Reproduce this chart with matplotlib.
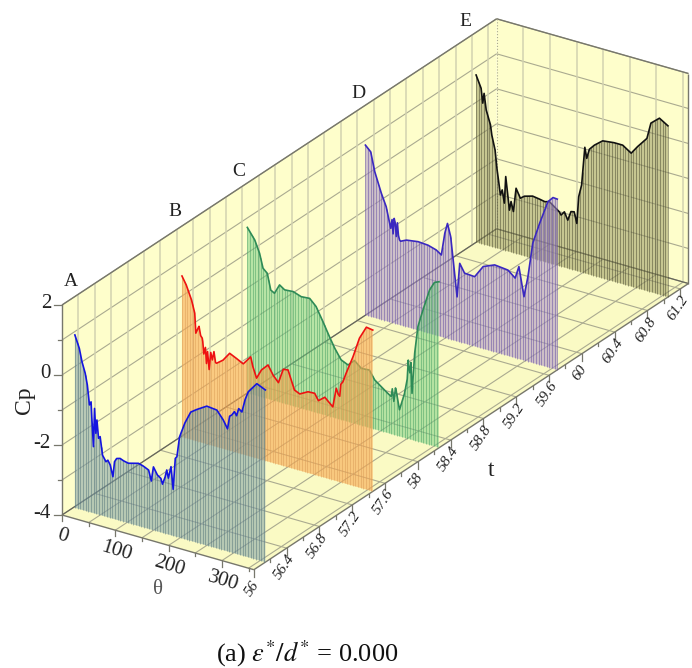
import matplotlib
matplotlib.use("Agg")
import matplotlib.pyplot as plt
import numpy as np

plt.rcParams['font.family'] = ['Liberation Serif', 'DejaVu Serif']
plt.rcParams['mathtext.fontset'] = 'stix'

# values
theta_a = [2.6, 11, 16, 22, 26, 30, 33, 34.5, 37.5, 39.5, 42, 44, 47, 50, 54.5, 61, 64.5, 69, 74, 77, 81, 87.5, 94,
           103, 112.5, 122, 131, 141, 146, 150, 157.5, 164, 167, 172, 175, 178, 183, 187, 191, 194, 199, 209, 220,
           231, 250, 269, 281, 289, 293, 297, 302, 306, 310, 316, 322, 328, 344, 360]
cp_a = [0.94, 0.59, 0.23, -0.07, -0.39, -0.94, -0.84, -1.31, -2.10, -1.0, -1.70, -1.31, -1.82, -1.76, -2.27, -2.43,
        -2.37, -2.49, -2.80, -2.36, -2.25, -2.22, -2.26, -2.29, -2.25, -2.21, -2.25, -2.32, -2.61, -2.19, -2.39,
        -2.46, -2.61, -2.38, -2.17, -2.39, -2.04, -2.67, -1.77, -1.71, -1.12, -0.68, -0.32, -0.20, -0.02, -0.05,
        -0.28, -0.50, -0.12, -0.07, 0.05, -0.05, 0.17, 0.10, 0.48, 0.73, 1.03, 0.92]
theta_b = [2, 10, 20, 26, 28, 33, 34, 37, 40, 41, 43, 46, 48, 50, 53, 56, 59, 62, 65, 67, 79, 91.5, 104, 117, 131,
           135, 142, 151, 163.5, 173, 183, 192, 201, 213, 223, 238.5, 251, 258, 270, 285, 291.5, 295, 298, 300,
           304, 310, 323, 335, 348, 360]
cp_b = [0.6, 0.38, -0.01, -0.36, -0.92, -0.73, -0.70, -0.95, -1.01, -1.10, -1.45, -1.25, -1.70, -1.35, -1.85, -1.35,
        -1.55, -1.30, -1.60, -1.61, -1.47, -1.22, -1.31, -1.41, -1.15, -1.41, -1.71, -1.44, -1.24, -1.49, -1.66,
        -1.24, -1.22, -1.74, -1.81, -1.68, -1.67, -1.85, -1.70, -1.91, -1.35, -1.50, -1.55, -1.20, -1.11, -0.84,
        -0.31, 0.27, 0.64, 0.61]
theta_c = [0, 14, 23, 29.5, 37.5, 44, 51, 60.5, 70, 86, 101, 117, 129, 142, 154, 164, 176, 189, 201, 214, 229, 239,
           254, 262, 270, 272, 275, 278, 279, 282, 285.5, 295, 300, 302, 303, 305, 307, 309, 314, 320, 329.5, 342,
           351, 359.5]
cp_c = [0.73, 0.43, 0.09, -0.31, -0.42, -0.87, -0.93, -0.65, -0.75, -0.73, -0.81, -0.79, -0.97, -1.35, -1.72, -2.01,
        -2.29, -2.38, -2.20, -2.37, -2.35, -2.59, -2.76, -2.85, -2.93, -2.70, -3.05, -2.65, -2.70, -2.95, -3.24,
        -2.73, -2.30, -1.75, -1.93, -2.10, -1.80, -2.67, -1.50, -0.72, -0.20, 0.43, 0.68, 0.74]
theta_d = [0, 10, 17.5, 30, 39, 47.5, 50, 52, 54, 56, 58, 60, 62, 64, 66, 77, 99, 117.5, 133, 142.5, 149, 154, 160,
           166, 172, 177, 186, 205, 221, 242.5, 267.5, 281, 288, 297.5, 305, 314, 327, 342.5, 352, 360]
cp_d = [0.86, 0.71, 0.18, -0.39, -0.73, -1.31, -1.05, -1.45, -1.00, -1.13, -1.50, -1.10, -1.45, -1.57, -1.60, -1.52,
        -1.47, -1.49, -1.56, -1.66, -1.01, -0.71, -1.06, -1.89, -2.73, -1.75, -1.99, -2.01, -1.65, -1.51, -1.55,
        -1.72, -1.36, -2.18, -1.57, -0.58, 0.05, 0.73, 0.89, 0.88]
theta_e = [0, 9.4, 12.5, 15, 19, 27, 29.5, 35.6, 39.4, 42, 45.6, 49, 53, 55.6, 59.4, 62.5, 65.6, 70, 75, 83, 90.6,
           106, 119, 129, 137.5, 147, 156, 159.4, 165.6, 172, 178, 184, 189, 192.5, 198, 204, 207.6, 212.5, 222,
           237.5, 259, 275, 291, 303, 320.5, 328, 344, 360]
cp_e = [0.78, 0.44, 0.03, 0.32, -0.14, -0.53, -0.81, -1.21, -1.76, -2.04, -2.45, -2.29, -2.65, -1.88, -2.39, -2.81,
        -2.55, -2.82, -2.13, -2.38, -2.29, -2.22, -2.25, -2.28, -2.24, -2.35, -2.45, -2.53, -2.41, -2.62, -2.35,
        -2.33, -2.64, -1.86, -1.50, -0.40, -0.70, -0.42, -0.26, -0.07, -0.03, -0.03, -0.19, 0.05, 0.36, 0.83, 1.04,
        0.89]

t_a, t_b, t_c, t_d, t_e = 56.14, 57.45, 58.26, 59.7, 61.05

theta_ticks = [0, 100, 200, 300]
t_ticks = [56, 56.4, 56.8, 57.2, 57.6, 58, 58.4, 58.8, 59.2, 59.6, 60, 60.4, 60.8, 61.2]
t_labels = ['56', '56.4', '56.8', '57.2', '57.6', '58', '58.4', '58.8', '59.2', '59.6', '60', '60.4', '60.8',
            '61.2']
cp_ticks = [-4, -2, 0, 2]
THETA_MAX = 360
T_MIN, T_MAX = 56, 61.3
CP_MIN, CP_MAX = -4, 2

WALL = '#fefecb'
FLOOR = '#fafac4'
GRID_V = '#d2d2b0'
GRID_H = '#aaaa90'
EDGE = '#77776c'


def project(theta, t, cp):
    # oblique view, result in image pixels
    theta = np.asarray(theta, dtype=float)
    x = 62 + 0.533 * theta + 82 * (t - T_MIN)
    y = 515 + 0.152 * theta - 54 * (t - T_MIN) - 35 * (np.asarray(cp, dtype=float) - CP_MIN)
    return x, y


def segment(ax, p, q, **kw):
    x0, y0 = project(*p)
    x1, y1 = project(*q)
    ax.plot([x0, x1], [y0, y1], solid_capstyle='butt', **kw)


def panel(ax, color, p1, p2, p3, p4):
    xs, ys = zip(*[project(*p) for p in (p1, p2, p3, p4)])
    ax.fill(xs, ys, color=color, lw=0, zorder=1)


fig = plt.figure(figsize=(6.92, 6.68), dpi=100)
ax = fig.add_axes([0, 0, 1, 1])
ax.set_xlim(0, 692)
ax.set_ylim(668, 0)
ax.axis('off')

# walls and floor
panel(ax, WALL, (0, T_MIN, CP_MIN), (0, T_MAX, CP_MIN), (0, T_MAX, CP_MAX), (0, T_MIN, CP_MAX))
panel(ax, WALL, (0, T_MAX, CP_MIN), (THETA_MAX, T_MAX, CP_MIN), (THETA_MAX, T_MAX, CP_MAX), (0, T_MAX, CP_MAX))
panel(ax, FLOOR, (0, T_MIN, CP_MIN), (THETA_MAX, T_MIN, CP_MIN), (THETA_MAX, T_MAX, CP_MIN), (0, T_MAX, CP_MIN))

grid_v = dict(color=GRID_V, lw=1.1, zorder=2)
grid_h = dict(color=GRID_H, lw=0.8, zorder=2)
for cp in range(CP_MIN, CP_MAX + 1):
    segment(ax, (0, T_MIN, cp), (0, T_MAX, cp), **grid_h)
    segment(ax, (0, T_MAX, cp), (THETA_MAX, T_MAX, cp), **grid_h)
for t in np.arange(56.2, T_MAX, 0.2):
    segment(ax, (0, t, CP_MIN), (0, t, CP_MAX), **grid_v)
for t in t_ticks[1:]:
    segment(ax, (0, t, CP_MIN), (THETA_MAX, t, CP_MIN), **grid_h)
for th in range(50, THETA_MAX, 50):
    segment(ax, (th, T_MAX, CP_MIN), (th, T_MAX, CP_MAX), **grid_v)
    segment(ax, (th, T_MIN, CP_MIN), (th, T_MAX, CP_MIN), **grid_h)

# box outline
box = dict(color=EDGE, lw=1.0, zorder=3)
segment(ax, (0, T_MIN, CP_MIN), (0, T_MIN, CP_MAX), **box)
segment(ax, (0, T_MIN, CP_MAX), (0, T_MAX, CP_MAX), **box)
segment(ax, (0, T_MAX, CP_MAX), (THETA_MAX, T_MAX, CP_MAX), **box)
segment(ax, (THETA_MAX, T_MAX, CP_MAX), (THETA_MAX, T_MAX, CP_MIN), **box)
segment(ax, (0, T_MIN, CP_MIN), (0, T_MAX, CP_MIN), color='#66665a', lw=0.9, zorder=3)
segment(ax, (0, T_MAX, CP_MIN), (THETA_MAX, T_MAX, CP_MIN), color='#66665a', lw=0.9, zorder=3)
segment(ax, (0, T_MIN, CP_MIN), (THETA_MAX, T_MIN, CP_MIN), **box)
segment(ax, (THETA_MAX, T_MIN, CP_MIN), (THETA_MAX, T_MAX, CP_MIN), **box)
segment(ax, (0, T_MAX, CP_MIN), (0, T_MAX, CP_MAX), color='#aaaa90', lw=0.8, ls=':', zorder=3)

# traces, back to front
series = [
    (theta_e, cp_e, t_e, '#111111', '#8f8f58', '#3f3f2a', 0.5),
    (theta_d, cp_d, t_d, '#3a28c0', '#a890c8', '#5a44a0', 0.55),
    (theta_c, cp_c, t_c, '#2e8b57', '#72cc80', '#3f9a60', 0.5),
    (theta_b, cp_b, t_b, '#ee1111', '#f8a850', '#d99a55', 0.6),
    (theta_a, cp_a, t_a, '#1414e0', '#7f9fa6', '#4f7078', 0.55),
]
z = 5
for th, cp, t, line_col, fill_col, stem_col, alpha in series:
    xs, ys = project(th, t, cp)
    bx, by = project(th, t, CP_MIN)
    ax.fill(np.r_[xs, bx[::-1]], np.r_[ys, by[::-1]], color=fill_col, alpha=alpha, lw=0, zorder=z)
    stems = np.arange(th[0], th[-1] + 0.1, 5.0)
    sx, sy = project(stems, t, np.interp(stems, th, cp))
    _, sb = project(stems, t, CP_MIN)
    ax.vlines(sx, sy, sb, color=stem_col, lw=0.6, alpha=0.55, zorder=z + 1)
    ax.plot(xs, ys, color=line_col, lw=1.2, zorder=z + 2)
    z += 3

# ticks and labels
tick = dict(color=EDGE, lw=0.9, zorder=3)
for cp in range(CP_MIN, CP_MAX + 1):
    x, y = project(0, T_MIN, cp)
    ax.plot([x - (8 if cp in cp_ticks else 4), x], [y, y], **tick)
for cp in cp_ticks:
    x, y = project(0, T_MIN, cp)
    ax.text(x - 11, y - 1, str(cp), ha='right', va='center', fontsize=15, color='#222222')
for th in range(0, THETA_MAX + 1, 50):
    x, y = project(th, T_MIN, CP_MIN)
    ax.plot([x, x], [y, y + (6 if th % 100 == 0 else 3)], **tick)
for th in theta_ticks:
    x, y = project(th, T_MIN, CP_MIN)
    ax.text(x + 1, y + 21, str(th), ha='center', va='center', rotation=-17, fontsize=15, color='#222222')
for t in np.arange(56.2, T_MAX, 0.4):
    x, y = project(THETA_MAX, round(t, 1), CP_MIN)
    ax.plot([x, x], [y, y + 3], **tick)
for t, lab in zip(t_ticks, t_labels):
    x, y = project(THETA_MAX, t, CP_MIN)
    ax.plot([x, x], [y, y + 7], **tick)
    ax.text(x - 2, y + 19, lab, ha='center', va='center', rotation=56, fontsize=11, style='italic',
            color='#222222')

ax.text(25, 400, 'Cp', rotation=90, ha='center', va='center', fontsize=17, color='#222222')
ax.text(158, 590, 'θ', ha='center', va='center', fontsize=15, color='#555555')
ax.text(491, 471, 't', ha='center', va='center', fontsize=17, color='#222222')
for lab, lx, ly in [('A', 71, 281), ('B', 175, 211), ('C', 239, 171), ('D', 358, 93), ('E', 465, 22)]:
    ax.text(lx, ly, lab, ha='center', va='center', fontsize=14, color='#222222')
ax.text(307, 654, r'(a) $\varepsilon^{*}/d^{*}$ = 0.000', ha='center', va='center', fontsize=19, color='#111111')

fig.savefig('out.png', dpi=100)
